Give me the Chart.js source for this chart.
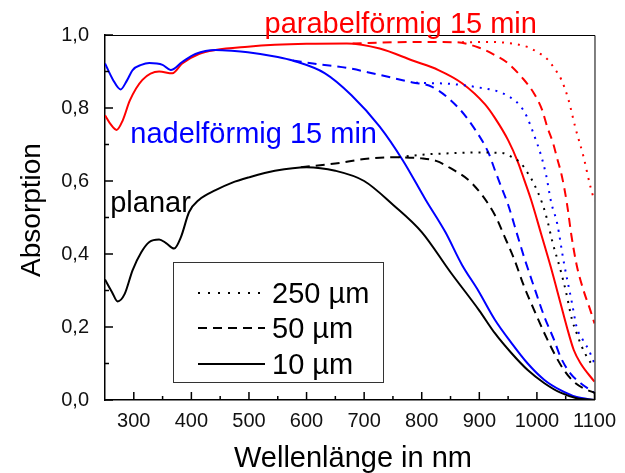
<!DOCTYPE html>
<html>
<head>
<meta charset="utf-8">
<script src="https://cdn.jsdelivr.net/npm/chart.js@4"></script>
<style>
  body { margin: 0; background: #fff; }
  canvas { display: block; }
</style>
</head>
<body>
<canvas id="myChart" width="625" height="473"></canvas>
<script>
// Wellenlaenge (nm) und Absorption
const xPlanar10 = [250, 262, 272, 284, 298, 313, 327, 344, 356, 370, 382, 396, 413, 442, 470, 500, 545, 600, 650, 700, 750, 800, 850, 900, 927, 956, 984, 1013, 1041, 1069, 1100];
const yPlanar10 = [0.33, 0.296, 0.27, 0.29, 0.356, 0.405, 0.433, 0.44, 0.43, 0.415, 0.447, 0.515, 0.548, 0.575, 0.595, 0.61, 0.628, 0.638, 0.628, 0.60, 0.535, 0.46, 0.35, 0.245, 0.183, 0.128, 0.082, 0.046, 0.02, 0.005, 0.0];
const xPlanar50 = [590, 650, 700, 750, 800, 825, 850, 887, 927, 944, 961, 978, 995, 1013, 1030, 1047, 1064, 1081, 1100];
const yPlanar50 = [0.638, 0.648, 0.66, 0.665, 0.662, 0.655, 0.635, 0.594, 0.507, 0.447, 0.384, 0.31, 0.247, 0.183, 0.128, 0.082, 0.05, 0.032, 0.02];
const xPlanar250 = [760, 800, 850, 900, 939, 956, 972, 984, 994, 1009, 1018, 1027, 1041, 1050, 1061, 1069, 1078, 1090, 1100];
const yPlanar250 = [0.665, 0.672, 0.676, 0.678, 0.677, 0.666, 0.649, 0.622, 0.595, 0.54, 0.493, 0.433, 0.356, 0.30, 0.22, 0.183, 0.146, 0.11, 0.09];

const xNadel10 = [250, 264, 277, 288, 298, 313, 327, 350, 364, 384, 407, 442, 470, 498, 550, 576, 632, 678, 727, 767, 807, 841, 870, 898, 927, 956, 984, 1013, 1041, 1069, 1100];
const yNadel10 = [0.922, 0.877, 0.851, 0.875, 0.904, 0.918, 0.923, 0.918, 0.904, 0.926, 0.948, 0.959, 0.957, 0.953, 0.94, 0.93, 0.895, 0.835, 0.749, 0.657, 0.548, 0.46, 0.37, 0.30, 0.22, 0.156, 0.10, 0.055, 0.027, 0.008, 0.0];
const xNadel50 = [576, 620, 670, 720, 784, 818, 864, 893, 916, 927, 939, 950, 967, 978, 995, 1013, 1030, 1041, 1058, 1076, 1100];
const yNadel50 = [0.93, 0.92, 0.91, 0.893, 0.87, 0.858, 0.80, 0.74, 0.677, 0.63, 0.58, 0.535, 0.447, 0.39, 0.31, 0.228, 0.164, 0.118, 0.073, 0.046, 0.02];
const xNadel250 = [790, 850, 900, 935, 953, 970, 982, 995, 1007, 1016, 1025, 1035, 1047, 1061, 1069, 1080, 1090, 1100];
const yNadel250 = [0.869, 0.866, 0.856, 0.844, 0.83, 0.808, 0.778, 0.726, 0.671, 0.616, 0.54, 0.485, 0.375, 0.265, 0.20, 0.164, 0.137, 0.10];

const xParabel10 = [250, 260, 270, 281, 293, 315, 344, 367, 384, 413, 442, 498, 545, 600, 670, 727, 784, 829, 870, 910, 927, 950, 967, 978, 990, 1007, 1024, 1041, 1052, 1064, 1076, 1100];
const yParabel10 = [0.78, 0.755, 0.74, 0.767, 0.82, 0.877, 0.90, 0.895, 0.922, 0.948, 0.959, 0.968, 0.973, 0.976, 0.977, 0.963, 0.93, 0.904, 0.868, 0.81, 0.773, 0.712, 0.652, 0.603, 0.548, 0.457, 0.365, 0.265, 0.20, 0.137, 0.10, 0.05];
const xParabel50 = [680, 750, 800, 860, 900, 927, 947, 975, 995, 1009, 1018, 1028, 1035, 1043, 1052, 1060, 1069, 1081, 1093, 1100];
const yParabel50 = [0.977, 0.98, 0.981, 0.98, 0.965, 0.945, 0.926, 0.882, 0.84, 0.795, 0.748, 0.704, 0.663, 0.616, 0.54, 0.45, 0.37, 0.30, 0.245, 0.21];
const xParabel250 = [870, 920, 949, 984, 1001, 1018, 1031, 1042, 1054, 1067, 1081, 1093, 1100];
const yParabel250 = [0.98, 0.981, 0.978, 0.967, 0.953, 0.934, 0.907, 0.879, 0.827, 0.745, 0.666, 0.584, 0.545];

const xTicks = [300, 400, 500, 600, 700, 800, 900, 1000, 1100];
const xMinor = [350, 450, 550, 650, 750, 850, 950, 1050];
const yTicks = [0, 0.2, 0.4, 0.6, 0.8, 1.0];
const yMinor = [0.1, 0.3, 0.5, 0.7, 0.9];

const legendLabels = ['250 µm', '50 µm', '10 µm'];

const rot = '#ff0000';
const blau = '#0000ff';
const schwarz = '#000000';
const punktiert = [2, 6];
const gestrichelt = [9, 6];

function pts(xs, ys) {
    return xs.map((x, i) => ({ x: x, y: ys[i] }));
}

function serie(xs, ys, color, dash) {
    return {
        data: pts(xs, ys),
        borderColor: color,
        borderWidth: 2,
        borderDash: dash,
        pointRadius: 0,
        fill: false,
        cubicInterpolationMode: 'monotone'
    };
}

const datasets = [
    serie(xPlanar250, yPlanar250, schwarz, punktiert),
    serie(xNadel250, yNadel250, blau, punktiert),
    serie(xParabel250, yParabel250, rot, punktiert),
    serie(xPlanar50, yPlanar50, schwarz, gestrichelt),
    serie(xNadel50, yNadel50, blau, gestrichelt),
    serie(xParabel50, yParabel50, rot, gestrichelt),
    serie(xPlanar10, yPlanar10, schwarz, []),
    serie(xNadel10, yNadel10, blau, []),
    serie(xParabel10, yParabel10, rot, [])
];

const font = 'Arial, "Liberation Sans", sans-serif';

const rahmen = {
    id: 'rahmen',
    afterDraw(chart) {
        const c = chart.ctx;
        const a = chart.chartArea;
        const sx = chart.scales.x;
        const sy = chart.scales.y;
        c.save();
        c.strokeStyle = '#000';
        c.lineWidth = 1;
        c.setLineDash([]);
        c.beginPath();
        c.moveTo(a.left, a.top + 0.5);
        c.lineTo(a.right + 0.5, a.top + 0.5);
        c.lineTo(a.right + 0.5, a.bottom);
        c.stroke();

        // Ticks nach innen
        c.lineWidth = 1.5;
        c.beginPath();
        xTicks.forEach(v => { const p = sx.getPixelForValue(v); c.moveTo(p, a.bottom); c.lineTo(p, a.bottom - 8); });
        xMinor.forEach(v => { const p = sx.getPixelForValue(v); c.moveTo(p, a.bottom); c.lineTo(p, a.bottom - 4); });
        yTicks.forEach(v => { const p = sy.getPixelForValue(v); c.moveTo(a.left, p); c.lineTo(a.left + 8, p); });
        yMinor.forEach(v => { const p = sy.getPixelForValue(v); c.moveTo(a.left, p); c.lineTo(a.left + 4, p); });
        c.stroke();

        // Beschriftungen
        c.font = '29px ' + font;
        c.textBaseline = 'alphabetic';
        c.textAlign = 'left';
        c.fillStyle = rot;
        c.fillText('parabelförmig 15 min', sx.getPixelForValue(527), sy.getPixelForValue(1.005));
        c.fillStyle = blau;
        c.fillText('nadelförmig 15 min', sx.getPixelForValue(294), sy.getPixelForValue(0.704));
        c.fillStyle = schwarz;
        c.fillText('planar', sx.getPixelForValue(259), sy.getPixelForValue(0.515));

        // Achsentitel
        c.textAlign = 'center';
        c.fillText('Wellenlänge in nm', 353, 467);
        c.save();
        c.translate(40, 210);
        c.rotate(-Math.PI / 2);
        c.font = '28px ' + font;
        c.fillText('Absorption', 0, 0);
        c.restore();

        // Legende
        c.lineWidth = 1;
        c.strokeStyle = '#333';
        c.strokeRect(173.5, 262.5, 210, 120);
        const dashes = [[2, 8], [9, 6], []];
        const rowY = [293, 328, 364];
        c.strokeStyle = '#000';
        c.lineWidth = 2;
        dashes.forEach((d, i) => {
            c.setLineDash(d);
            c.beginPath();
            c.moveTo(198, rowY[i]);
            c.lineTo(265, rowY[i]);
            c.stroke();
        });
        c.setLineDash([]);
        c.textAlign = 'left';
        c.textBaseline = 'middle';
        legendLabels.forEach((t, i) => c.fillText(t, 272, rowY[i] + 2));
        c.restore();
    }
};

const ctx = document.getElementById('myChart').getContext('2d');
new Chart(ctx, {
    type: 'line',
    data: { datasets: datasets },
    options: {
        responsive: false,
        animation: false,
        layout: { padding: { left: 0, top: 35, right: 24, bottom: 0 } },
        plugins: {
            legend: { display: false },
            tooltip: { enabled: false }
        },
        scales: {
            x: {
                type: 'linear',
                min: 250,
                max: 1100,
                grid: { display: false, drawTicks: false },
                border: { display: true, color: '#000', width: 1.5 },
                ticks: {
                    color: '#111',
                    font: { family: font, size: 20 },
                    padding: 9,
                    maxRotation: 0,
                    callback: v => String(v)
                },
                afterBuildTicks: s => { s.ticks = xTicks.map(v => ({ value: v })); },
                afterFit: s => { s.height = 73; }
            },
            y: {
                type: 'linear',
                min: 0,
                max: 1,
                grid: { display: false, drawTicks: false },
                border: { display: true, color: '#000', width: 1.5 },
                ticks: {
                    color: '#111',
                    font: { family: font, size: 20 },
                    padding: 16,
                    callback: v => v.toFixed(1).replace('.', ',')
                },
                afterBuildTicks: s => { s.ticks = yTicks.map(v => ({ value: v })); },
                afterFit: s => { s.width = 105; }
            }
        }
    },
    plugins: [rahmen]
});
</script>
</body>
</html>
